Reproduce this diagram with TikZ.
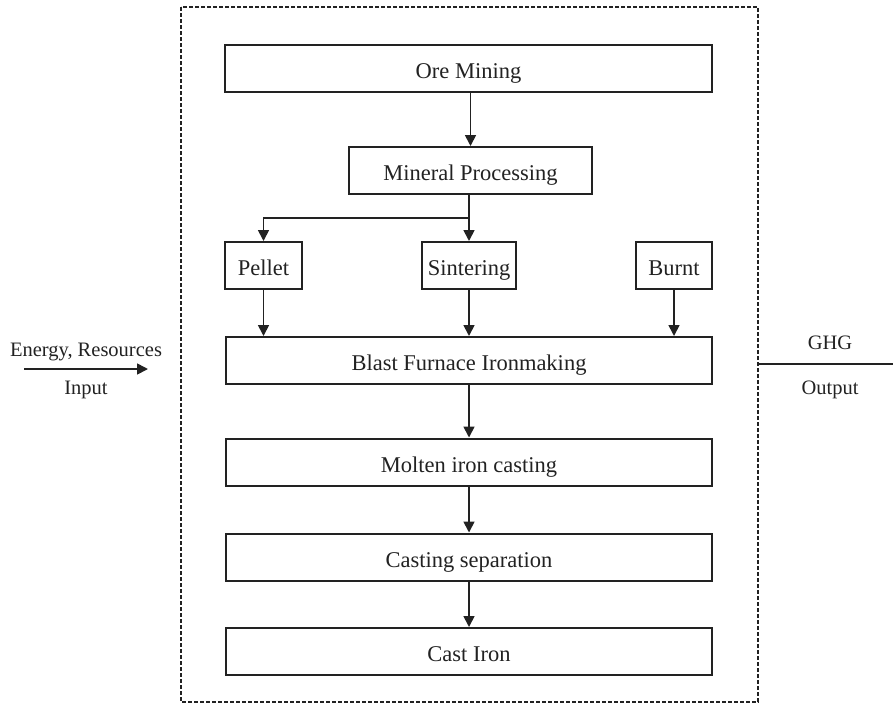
\documentclass[tikz,border=0pt]{standalone}
\usepackage{fontspec}
\setmainfont{Liberation Serif}
\usetikzlibrary{arrows.meta}
\definecolor{ink}{HTML}{222222}
\begin{document}
\begin{tikzpicture}[x=1pt,y=-1pt,
  box/.style={draw=ink,line width=2pt,minimum height=47pt,inner sep=0pt,
    text height=24pt,text depth=4pt,
    font=\fontsize{22.5}{26}\selectfont,text=ink},
  arr/.style={draw=ink,line width=1.7pt,-{Triangle[length=11pt,width=11pt]}},
  lbl/.style={font=\fontsize{20.5}{24}\selectfont,text=ink,inner sep=0pt},
  frame/.style={draw=ink,line width=1.8pt,dash pattern=on 4pt off 2pt}]
\useasboundingbox (0,0) rectangle (893,702);

% system boundary
\draw[frame] (181,7) rectangle (758,702);

% process steps
\node[box,minimum width=487pt] (om)   at (468.5,68)   {Ore Mining};
\node[box,minimum width=243pt] (mp)   at (470.5,170.5) {Mineral Processing};
\node[box,minimum width=77pt]  (pel)  at (263.5,265.5) {Pellet};
\node[box,minimum width=94pt]  (sin)  at (469,265.5)   {Sintering};
\node[box,minimum width=76pt]  (bur)  at (674,265.5)   {Burnt};
\node[box,minimum width=486pt] (bf)   at (469,360.5)   {Blast Furnace Ironmaking};
\node[box,minimum width=486pt] (mic)  at (469,462)     {Molten iron casting};
\node[box,minimum width=486pt] (cs)   at (469,557)     {Casting separation};
\node[box,minimum width=486pt] (ci)   at (469,651.5)   {Cast Iron};

% flow between steps
\draw[arr] (mp.north |- om.south) -- (mp.north);
\coordinate (split) at (469,218);
\draw[draw=ink,line width=1.7pt] (mp.south -| split) -- (split);
\draw[arr] (split) -| (pel.north);
\draw[arr] (split) -- (sin.north);
\draw[arr] (pel.south) -- (pel.south |- bf.north);
\draw[arr] (sin.south) -- (sin.south |- bf.north);
\draw[arr] (bur.south) -- (bur.south |- bf.north);
\draw[arr] (bf.south) -- (mic.north);
\draw[arr] (mic.south) -- (cs.north);
\draw[arr] (cs.south) -- (ci.north);

% input side
\node[lbl] (inE) at (86,352) {Energy, Resources};
\node[lbl] (inI) at (86,390) {Input};
\coordinate (inL) at (24,369);
\coordinate (inR) at (148,369);
\draw[arr] (inL) -- (inR);

% output side
\node[lbl] (outG) at (830,343) {GHG};
\node[lbl] (outO) at (830,390) {Output};
\coordinate (outL) at (758,364);
\coordinate (outR) at (893,364);
\draw[draw=ink,line width=1.7pt] (outL) -- (outR);
\end{tikzpicture}
\end{document}
